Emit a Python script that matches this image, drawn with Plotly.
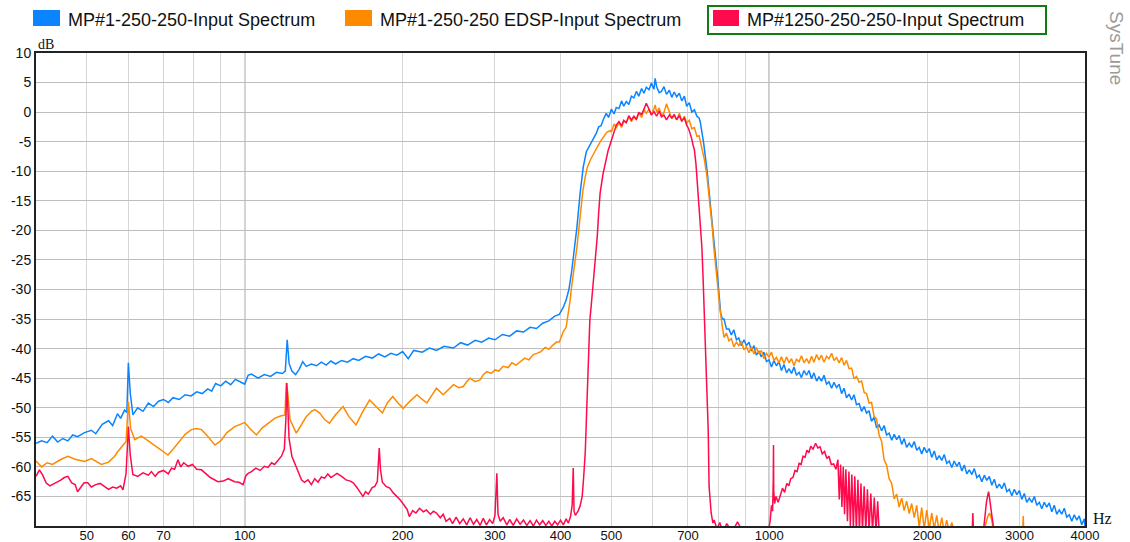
import math
import plotly.graph_objects as go

# ---------------- data ----------------
blue_freq = [40, 41, 42, 43, 44, 45, 46, 47, 48, 49.5, 51, 52, 53.5, 55, 56, 57.2, 58, 59, 59.6, 60, 60.5, 61.2,
             62.5, 64, 65.5, 67, 68.5, 70, 71.5, 73, 75, 77, 79, 81, 83, 85, 86.5, 88, 90, 92, 94, 96, 98, 100,
             101.5, 103, 106, 109, 112, 115, 118, 119.5, 120.5, 121.5, 123, 125, 127, 129, 131, 134, 137, 140,
             143, 146, 149, 153, 157, 161, 165, 170, 175, 180, 185, 190, 195, 200, 205, 210, 218, 225, 232, 240,
             250, 258, 266, 275, 283, 292, 300, 310, 320, 330, 340, 350, 360, 370, 380, 390, 398, 405, 410, 415,
             420, 425, 430, 436, 442, 448, 453, 458, 463, 468, 473, 478, 483, 489, 494,
             500, 506, 511, 517, 523, 528, 534, 540, 546, 552, 558, 564, 571, 577, 583, 590, 596, 603, 606, 610,
             617, 623, 630, 637, 645, 652, 659, 666, 674, 681, 689, 696, 704, 712, 720, 728, 735,
             739, 750, 761, 773, 784, 797, 808, 814,
             820, 829, 838, 847, 856, 866, 875, 885, 895, 905, 915, 925, 935, 945, 956, 966, 977, 988, 999, 1010,
             1021, 1032, 1044, 1055, 1067, 1079, 1091, 1103, 1115, 1127, 1140, 1152, 1165, 1178, 1191, 1204, 1217,
             1231, 1244, 1258, 1272, 1286, 1300, 1315, 1329, 1344, 1359, 1374, 1389, 1404, 1420, 1436, 1451, 1467,
             1484, 1500, 1517, 1533, 1550, 1567, 1585, 1602, 1620, 1638, 1656, 1674, 1693, 1712, 1731, 1750, 1769,
             1789, 1808, 1828, 1849, 1869, 1890, 1911, 1932, 1953, 1975, 1997, 2019, 2041, 2064, 2086, 2109, 2133,
             2156, 2180, 2204, 2229, 2253, 2278, 2303, 2329, 2355, 2381, 2407, 2434, 2460, 2488, 2515, 2543, 2571,
             2599, 2628, 2657, 2686, 2716, 2746, 2776, 2807, 2838, 2869, 2901, 2933, 2965, 2998, 3031, 3064, 3098,
             3132, 3167, 3202, 3237, 3273, 3309, 3345, 3382, 3419, 3457, 3495, 3534, 3573, 3612, 3652, 3692, 3733,
             3774, 3816, 3858, 3900, 3943, 3987, 4000]
blue_db = [-56.0, -55.6, -55.9, -54.8, -55.8, -55.2, -55.6, -54.6, -54.9, -54.2, -53.8, -54.4, -52.8, -52.2, -53.0,
           -51.0, -51.8, -50.4, -50.8, -42.4, -47.5, -51.2, -50.0, -50.6, -49.2, -49.8, -48.9, -48.6, -49.1, -48.3,
           -48.6, -47.8, -48.0, -47.3, -47.6, -46.8, -47.2, -45.9, -46.3, -45.5, -46.1, -45.2, -45.6, -46.0, -44.5,
           -44.3, -45.0, -44.4, -44.7, -44.0, -44.2, -43.8, -38.5, -42.5, -43.8, -44.4, -43.5, -42.2, -43.0, -42.6,
           -42.9, -42.3, -42.8, -42.1, -42.6, -42.0, -42.3, -41.7, -42.0, -41.3, -41.6, -40.9, -41.4, -40.8, -41.1,
           -40.5, -41.7, -40.3, -40.6, -39.9, -40.3, -39.6, -39.9, -39.0, -39.4, -38.6, -38.9, -38.2, -38.5, -37.6,
           -37.9, -37.0, -37.2, -36.4, -36.6, -35.7, -35.3, -34.5, -34.2, -33.0, -31.8, -30.0, -27.0, -23.5, -19.4,
           -13.7, -9.3, -6.7, -5.9, -5.0, -4.2, -3.6, -2.5, -2.3, -1.2, -0.2, -0.9,
           0.5, -0.3, 0.8, 0.6, 1.9, 1.0, 1.8, 1.3, 2.7, 2.4, 3.5, 2.7, 4.0, 3.2, 4.2, 3.8, 4.9, 3.9, 5.7, 4.3,
           3.3, 3.5, 4.3, 3.0, 3.7, 2.5, 3.4, 2.6, 3.2, 1.9, 2.7, 1.0, 1.6, 0.0, 0.4, -0.7, -1.0,
           -1.7, -5.3, -9.8, -15.4, -21.6, -27.8, -34.0, -35.0,
           -35.0, -36.7, -36.7, -37.7, -36.8, -38.5, -38.2, -39.5, -38.5, -39.5, -38.9, -40.4, -39.5, -41.1, -40.5,
           -41.4, -40.6, -42.2, -41.9, -43.1, -42.0, -42.9, -42.2, -43.7, -42.7, -44.1, -43.4, -44.2, -43.1, -44.5,
           -44.0, -44.9, -43.7, -44.5, -43.7, -45.1, -44.1, -45.5, -44.8, -45.5, -44.5, -46.0, -45.6, -46.7, -45.7,
           -46.6, -46.0, -47.6, -46.7, -48.3, -47.7, -48.7, -47.8, -49.5, -49.3, -50.6, -49.8, -50.9, -50.5, -52.3,
           -51.6, -53.4, -52.9, -53.9, -53.0, -54.6, -54.3, -55.5, -54.5, -55.4, -54.7, -56.2, -55.2, -56.7, -56.0,
           -56.7, -55.7, -57.2, -56.7, -57.8, -56.7, -57.6, -56.9, -58.4, -57.3, -58.8, -58.1, -58.9, -57.9, -59.4,
           -59.0, -60.1, -59.0, -59.9, -59.2, -60.7, -59.7, -61.2, -60.5, -61.3, -60.3, -61.8, -61.4, -62.5, -61.4,
           -62.3, -61.6, -63.1, -62.1, -63.6, -62.9, -63.7, -62.7, -64.2, -63.8, -64.9, -63.8, -64.7, -64.0, -65.5,
           -64.5, -66.0, -65.3, -66.0, -65.0, -66.5, -66.0, -67.1, -66.0, -66.8, -66.1, -67.6, -66.5, -68.0, -67.3,
           -68.0, -67.0, -68.5, -68.1, -69.2, -68.1, -69.0, -68.3, -69.8, -68.8, -70.0]

orange_freq = [40, 41, 42, 43, 44.5, 46, 47.5, 49.5, 51, 53.3, 55, 56.5, 57.3, 58.5, 59.4, 60, 60.6, 61.7, 63.5,
               65.5, 67.5, 69.4, 71.4, 73, 74.6, 77, 79.1, 81, 82.7, 85, 87.7, 90, 92.5, 95.7, 100, 102.5, 105.3,
               108, 111, 114, 117, 119.3, 120, 120.8, 122, 125.4, 128, 131, 134, 136, 139, 142, 145, 149, 154, 158,
               163, 168, 173, 178, 183, 187, 191.5, 196, 200.5, 206, 213, 218, 222.5, 227, 232, 239, 245, 250, 256,
               261, 265, 268.8, 275, 281, 285, 289.5, 295, 300, 305, 311, 318, 323, 329, 335, 342, 348, 355, 360.5,
               367, 374, 380, 387, 393, 398, 405, 410, 414, 417, 420, 425, 430, 436, 441, 446, 450, 456, 463, 470,
               477, 484, 490, 498,
               500, 506, 511, 517, 523, 528, 534, 540, 546, 552, 558, 564, 571, 577, 583, 590, 596, 603, 606, 610,
               617, 623, 630, 637, 645, 652, 659, 666, 674, 681, 689, 696, 704, 712, 720, 728, 735,
               744, 752, 761, 767, 773, 779, 784, 790, 797, 805, 814,
               820, 829, 838, 847, 856, 866, 875, 885, 895, 905, 915, 925, 935, 945, 956, 966, 977, 988, 999, 1010,
               1021, 1032, 1044, 1055, 1067, 1079, 1091, 1103, 1115, 1127, 1140, 1152, 1165, 1178, 1191, 1204, 1217,
               1231, 1244, 1258, 1272, 1286, 1300, 1315, 1329, 1344, 1359, 1374, 1389, 1404, 1420, 1436, 1451, 1467,
               1484, 1500, 1517, 1533, 1550, 1567, 1585, 1602, 1620, 1638, 1656, 1674, 1693, 1712, 1731, 1750, 1769,
               1789, 1808, 1828, 1849, 1869, 1890, 1911, 1932, 1953, 1975, 1997, 2019, 2041, 2064, 2086, 2109, 2133,
               2156, 2180, 2204, 2229, 2253, 2278,
               2550, 2590, 2610, 2630, 2650, 2670, 2700, 3040, 3050, 3060, 4000]
orange_db = [-59.0, -60.0, -59.3, -59.6, -58.8, -58.2, -58.7, -59.1, -58.6, -59.6, -59.2, -58.2, -57.4, -56.5, -55.7,
             -49.0, -53.5, -55.4, -54.8, -55.6, -56.4, -57.1, -58.0, -57.0, -56.0, -54.5, -53.7, -53.5, -53.7, -54.8,
             -56.3, -55.6, -54.2, -53.2, -52.5, -53.6, -54.6, -53.4, -52.6, -51.8, -51.4, -51.2, -45.8, -47.5, -52.0,
             -54.3, -53.0, -51.5, -50.6, -50.3, -50.9, -52.0, -52.6, -51.2, -49.8, -51.5, -52.9, -50.6, -48.7, -49.8,
             -50.9, -49.2, -48.1, -49.2, -50.1, -49.0, -47.8, -48.6, -49.2, -48.0, -46.7, -47.8, -46.8, -46.1, -46.6,
             -46.4, -45.6, -45.0, -45.6, -45.3, -44.4, -43.9, -44.2, -43.6, -43.8, -43.0, -43.2, -42.4, -42.8, -42.2,
             -41.6, -41.9, -41.0, -40.8, -40.5, -39.8, -40.1, -39.4, -38.9, -38.9, -37.1, -36.4, -34.0, -32.0, -29.5,
             -26.0, -22.8, -17.7, -13.5, -10.9, -9.3, -8.1, -6.9, -5.9, -4.9, -4.0, -3.4, -3.1,
             -3.4, -2.0, -2.6, -1.8, -2.6, -1.5, -1.7, -0.7, -1.6, -0.8, -1.3, -0.1, -0.9, 0.4, -0.2, 0.5, -0.4,
             0.6, 1.2, 0.0, 0.7, -0.6, -0.1, 1.4, 0.2, -1.1, -0.5, -1.3, -0.2, -1.6, -0.7, -1.8, -1.4, -2.8, -2.6,
             -4.1, -4.0,
             -5.9, -8.0, -10.9, -13.5, -16.6, -19.6, -22.8, -26.0, -29.5, -33.0, -36.3,
             -38.1, -37.4, -38.7, -38.3, -39.7, -38.9, -39.5, -38.8, -40.2, -39.7, -40.7, -39.7, -40.9, -39.8, -40.9,
             -40.3, -41.7, -40.8, -41.4, -40.6, -42.0, -41.5, -42.4, -41.4, -42.5, -41.4, -42.4, -41.7, -42.9, -41.8,
             -42.2, -41.2, -42.4, -41.7, -42.5, -41.3, -42.3, -41.0, -41.9, -41.1, -42.3, -41.3, -41.7, -40.8, -42.0,
             -41.5, -42.4, -41.5, -42.8, -42.0, -43.4, -43.3, -45.1, -44.7, -45.7, -45.5, -47.4, -47.6, -49.2, -49.1,
             -51.5, -51.9, -54.6, -55.7, -58.8, -59.7, -62.0, -62.8, -65.4, -64.6, -66.8, -65.3, -67.4, -65.8, -67.9,
             -66.2, -68.6, -66.5, -70.2, -66.9, -70.5, -67.3, -70.5, -67.8, -70.5, -68.2, -71.0, -68.6, -71.0, -69.0,
             -71.0, -69.4, -71.0, -72.0,
             -72.0, -69.5, -68.4, -67.8, -68.6, -70.2, -72.0, -72.0, -68.3, -72.0, -72.0]

red_freq = [40, 40.6, 41.2, 41.8, 42.5, 43.5, 44.5, 45.3, 46, 46.8, 47.5, 48, 48.7, 49.4, 50.2, 51, 52, 53, 54, 55,
            56, 57, 58, 58.6, 59.4, 60, 60.5, 61.2, 62.5, 64, 65.5, 66.4, 67.5, 68.5, 70, 71.5, 72.5, 73.5, 74.6,
            75.5, 76.5, 78, 79.5, 81, 82.7, 84, 86, 88.9, 91, 93, 95.7, 97.5, 99.3, 100.5, 101.5, 103, 105, 107,
            109, 110.8, 112.5, 114, 116, 117.5, 119, 119.8, 120.3, 120.8, 121.5, 123, 124.6, 126.5, 128.3, 130,
            132, 134, 136, 138, 140, 142, 144, 146, 148, 150, 153, 156, 159, 161, 164, 166, 168, 170, 172, 175,
            177, 179, 180.5, 181.5, 183, 186, 189, 192, 195, 198, 201, 204, 206, 209, 212, 215.5, 219, 222, 226,
            229, 232, 236, 239, 242, 246, 249, 253, 257, 261, 265, 269, 273, 277, 281, 285, 289, 293, 297, 300,
            302.5, 304, 307, 311, 316, 320, 325, 330, 335, 340, 345, 350, 355, 360, 365, 370, 375, 380, 385, 390,
            395, 400, 405, 410, 414, 418, 421, 423, 424.5, 427, 432, 436, 440, 443, 446, 449, 452, 455, 458, 462,
            466, 470, 473, 476, 482, 488, 493, 498, 505, 511,
            517, 523, 528, 534, 540, 546, 552, 558, 564, 571, 577, 583, 590, 596, 603, 610, 617, 623, 630, 637,
            645, 652, 659, 666, 674, 681, 689, 696,
            702, 707, 711, 716, 720, 725, 730, 735, 740, 744, 748, 752, 755, 760, 765, 768, 775, 781, 785, 795, 805,
            815, 830, 850, 870, 890, 910, 950, 985, 998, 1004, 1010, 1015, 1018, 1019, 1020, 1024, 1030, 1040, 1050,
            1060, 1070, 1080, 1090, 1099, 1110, 1120, 1130, 1140, 1150, 1160, 1170, 1180, 1190, 1200, 1212, 1226,
            1238, 1250, 1262, 1275, 1288, 1300, 1313, 1327, 1340, 1352, 1360, 1368, 1376, 1384, 1392, 1400, 1410,
            1419, 1428, 1437, 1447, 1456, 1466, 1476, 1486, 1496, 1506, 1517, 1528, 1539, 1550, 1562, 1574, 1586,
            1598, 1610, 1622, 2400, 2440, 2445, 2450, 2480, 2560, 2580, 2595, 2610, 2620, 2630, 2645, 2660, 2680,
            2700, 4000]
red_db = [-61.6, -60.5, -61.4, -62.7, -63.2, -62.8, -62.3, -61.8, -61.6, -62.7, -63.0, -64.2, -63.5, -62.7, -62.7,
          -63.4, -63.0, -62.8, -63.3, -63.8, -63.4, -63.6, -63.2, -63.9, -61.1, -53.2, -58.0, -61.3, -61.6, -61.0,
          -61.4, -60.8, -61.6, -60.9, -60.6, -61.2, -60.2, -60.4, -58.8, -60.0, -59.3, -59.9, -59.6, -60.4, -60.5,
          -61.0, -61.8, -62.5, -62.4, -62.0, -62.5, -62.6, -63.0, -61.5, -61.1, -60.8, -60.2, -60.6, -59.9, -60.1,
          -59.3, -59.6, -58.8, -58.2, -57.0, -52.0, -45.8, -50.5, -55.2, -58.2, -59.4, -61.0, -62.2, -62.6, -62.2,
          -63.0, -62.0, -62.6, -61.7, -61.9, -61.2, -61.8, -61.4, -61.1, -61.6, -62.2, -62.4, -62.7, -63.6, -64.4,
          -65.0, -64.2, -64.6, -63.5, -63.3, -62.5, -56.8, -60.5, -62.6, -63.3, -63.6, -64.4, -65.0, -65.6, -66.4,
          -67.2, -68.4, -67.4, -67.8, -67.0, -67.6, -67.3, -68.0, -67.5, -67.8, -68.6, -68.0, -69.2, -68.7, -69.6,
          -68.5, -69.6, -68.8, -69.8, -68.6, -69.7, -68.9, -69.9, -68.7, -69.8, -68.9, -69.6, -68.2, -61.1, -68.0,
          -69.2, -68.6, -69.8, -68.9, -69.9, -68.8, -69.7, -69.0, -69.9, -69.1, -70.0, -69.0, -69.8, -69.1, -69.9,
          -69.2, -70.0, -69.2, -69.8, -69.0, -69.8, -68.8, -69.5, -68.4, -66.5, -60.2, -67.5, -68.2, -67.5, -66.6,
          -65.0, -61.5, -57.4, -49.8, -42.0, -35.2, -32.5, -28.9, -25.0, -21.1, -17.0, -13.7, -10.5, -8.1, -6.5,
          -5.3, -3.5, -2.2,
          -1.6, -2.3, -1.4, -1.8, -0.6, -1.3, -0.7, -1.2, -0.1, -0.4, 0.5, 1.5, 0.5, -0.5, 0.1, -0.7, 0.2, -0.8,
          -0.5, -1.3, -0.5, -1.0, -0.4, -1.3, -0.6, -1.5, -1.0, -2.2,
          -2.8, -3.6, -4.4, -5.6, -6.4,
          -8.8, -12.6, -16.0, -19.5, -22.8, -28.0, -34.0, -38.0, -46.0, -53.7, -63.3, -67.8, -69.5, -69.0, -70.5,
          -69.4, -71.0, -69.6, -71.0, -69.3, -71.0, -72.0, -72.0, -72.0, -70.5, -69.2, -66.5, -67.5, -62.0, -56.3,
          -64.0, -66.2, -65.0, -66.0, -64.8, -63.6, -64.3, -62.8, -63.2, -62.0, -61.8, -60.6, -60.8, -59.4, -59.6,
          -58.2, -58.4, -57.2, -57.6, -56.5, -57.0, -56.0, -56.8, -56.6, -57.8, -57.4, -58.6, -58.2, -59.6, -59.5,
          -60.4, -58.8, -65.5, -59.6, -66.8, -60.0, -68.0, -60.4, -69.2, -60.8, -70.0, -61.3, -70.5, -61.6, -71.0,
          -62.2, -71.0, -62.8, -71.0, -63.3, -71.0, -63.8, -71.0, -64.5, -71.0, -65.2, -71.0, -65.8, -72.0, -72.0,
          -70.0, -67.8, -70.5, -72.0, -71.0, -67.5, -66.0, -64.8, -64.2, -65.2, -66.5, -68.5, -70.5, -72.0, -72.0]

series_names = ["MP#1-250-250-Input Spectrum",
                "MP#1-250-250 EDSP-Input Spectrum",
                "MP#1250-250-250-Input Spectrum"]
series_colors = ["#0a84ff", "#ff8a00", "#ff0a4c"]

x_tick_vals = [50, 60, 70, 100, 200, 300, 400, 500, 700, 1000, 2000, 3000, 4000]
x_tick_text = ["50", "60", "70", "100", "200", "300", "400", "500", "700", "1000", "2000", "3000", "4000"]
x_minor_vals = [80, 90, 600, 800, 900]
x_decade_vals = [100, 1000]
y_tick_vals = [10, 5, 0, -5, -10, -15, -20, -25, -30, -35, -40, -45, -50, -55, -60, -65]
y_tick_text = ["10", "5", "0", "-5", "-10", "-15", "-20", "-25", "-30", "-35", "-40", "-45", "-50", "-55",
               "-60", "-65"]

assert len(blue_freq) == len(blue_db), (len(blue_freq), len(blue_db))
assert len(orange_freq) == len(orange_db), (len(orange_freq), len(orange_db))
assert len(red_freq) == len(red_db), (len(red_freq), len(red_db))

# ---------------- figure ----------------
W, H = 1130, 542
ML, MR, MT, MB = 36, 45, 53, 16
PW, PH = W - ML - MR, H - MT - MB


def px(xp):
    return (xp - ML) / PW


def py(yp):
    return (H - MB - yp) / PH


fig = go.Figure()
for fx, fy, name, col in [(blue_freq, blue_db, series_names[0], series_colors[0]),
                          (orange_freq, orange_db, series_names[1], series_colors[1]),
                          (red_freq, red_db, series_names[2], series_colors[2])]:
    fig.add_trace(go.Scatter(x=fx, y=fy, mode="lines", name=name, showlegend=False,
                             line=dict(color=col, width=1.5), hoverinfo="skip"))

shapes = []
for v in x_decade_vals:
    shapes.append(dict(type="line", xref="x", yref="paper", x0=v, x1=v, y0=0, y1=1,
                       line=dict(color="#a0a0a0", width=1.5), layer="below"))

# manual legend (colour swatches + labels), as in the original header
legend_sw = [(33, 60), (345, 372), (713, 739)]
legend_tx = [66, 378, 745]
annotations = []
for i in range(3):
    x0, x1 = legend_sw[i]
    shapes.append(dict(type="rect", xref="paper", yref="paper", x0=px(x0), x1=px(x1), y0=py(26), y1=py(10),
                       fillcolor=series_colors[i], line=dict(width=0)))
    annotations.append(dict(text=series_names[i], xref="paper", yref="paper", x=px(legend_tx[i]), y=py(20),
                            xanchor="left", yanchor="middle", showarrow=False,
                            font=dict(family="Liberation Sans, Arial", size=18, color="#111111")))
shapes.append(dict(type="rect", xref="paper", yref="paper", x0=px(708), x1=px(1046), y0=py(34), y1=py(6),
                   line=dict(color="#0f7d0f", width=2), fillcolor="rgba(0,0,0,0)"))

annotations.append(dict(text="dB", xref="paper", yref="paper", x=px(36), y=py(44), xanchor="left",
                        yanchor="middle", showarrow=False,
                        font=dict(family="Liberation Serif, Times New Roman", size=14, color="#111111")))
annotations.append(dict(text="Hz", xref="paper", yref="paper", x=px(1091), y=py(518), xanchor="left",
                        yanchor="middle", showarrow=False,
                        font=dict(family="Liberation Serif, Times New Roman", size=16, color="#111111")))
annotations.append(dict(text="SysTune", xref="paper", yref="paper", x=px(1117), y=py(48), xanchor="center",
                        yanchor="middle", showarrow=False, textangle=90,
                        font=dict(family="Liberation Sans, Arial", size=19, color="#9a9a9a")))

fig.update_layout(
    width=W, height=H, margin=dict(l=ML, r=MR, t=MT, b=MB, pad=0, autoexpand=False),
    paper_bgcolor="white", plot_bgcolor="white",
    shapes=shapes, annotations=annotations, showlegend=False,
    xaxis=dict(type="log", range=[math.log10(40), math.log10(4000)], automargin=False,
               tickmode="array", tickvals=x_tick_vals, ticktext=x_tick_text, ticks="",
               ticklabelstandoff=-4,
               showgrid=True, gridcolor="#d6d6d6", gridwidth=1,
               minor=dict(tickmode="array", tickvals=x_minor_vals, showgrid=True, gridcolor="#d6d6d6",
                          gridwidth=1, ticks=""),
               showline=True, mirror=True, linecolor="#222222", linewidth=2, zeroline=False,
               tickfont=dict(family="Liberation Sans, Arial", size=13, color="#111111")),
    yaxis=dict(range=[-70, 10], automargin=False, tickmode="array", tickvals=y_tick_vals,
               ticktext=y_tick_text, ticks="",
               showgrid=True, gridcolor="#bdbdbd", gridwidth=1, zeroline=False,
               showline=True, mirror=True, linecolor="#222222", linewidth=2,
               tickfont=dict(family="Liberation Sans, Arial", size=14, color="#111111")),
)

fig.write_html("out.html", config={"displayModeBar": False, "staticPlot": True},
               post_script="document.body.style.margin='0px';document.body.style.overflow='hidden';")
